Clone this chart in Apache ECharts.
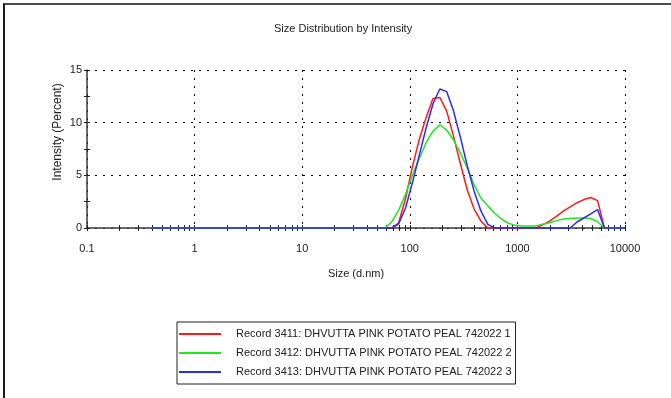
<!DOCTYPE html>
<html>
<head>
<meta charset="utf-8">
<script src="https://cdn.jsdelivr.net/npm/echarts@6/dist/echarts.min.js"></script>
<style>
html, body { margin: 0; padding: 0; background: #fff; }
#wrap { position: relative; width: 671px; height: 398px; overflow: hidden; }
#chart { position: absolute; left: 0; top: 0; width: 671px; height: 398px; }
#frame { position: absolute; left: 3px; top: 3px; right: -10px; bottom: -10px;
         border-top: 2px solid #4a4a4a; border-left: 2px solid #1a1a1a; pointer-events: none; }
</style>
</head>
<body>
<div id="wrap"><div id="chart"></div><div id="frame"></div></div>
<script>
// Size classes (d.nm), 70 log-spaced bins
const sizes = [
  0.4, 0.4632, 0.5365, 0.6213, 0.7195, 0.8332, 0.9649, 1.117, 1.294, 1.499,
  1.736, 2.010, 2.328, 2.696, 3.122, 3.615, 4.187, 4.849, 5.615, 6.503,
  7.531, 8.721, 10.10, 11.70, 13.54, 15.69, 18.17, 21.04, 24.36, 28.21,
  32.67, 37.84, 43.82, 50.75, 58.77, 68.06, 78.82, 91.28, 105.7, 122.4,
  141.8, 164.2, 190.1, 220.2, 255.0, 295.3, 342.0, 396.1, 458.7, 531.2,
  615.1, 712.4, 825.0, 955.4, 1106, 1281, 1484, 1718, 1990, 2305,
  2669, 3091, 3580, 4145, 4801, 5560, 6439, 7456, 8635, 10000
];

// Intensity (%) per size class
const record3411 = [
  0, 0, 0, 0, 0, 0, 0, 0, 0, 0,
  0, 0, 0, 0, 0, 0, 0, 0, 0, 0,
  0, 0, 0, 0, 0, 0, 0, 0, 0, 0,
  0, 0, 0, 0, 0, 0, 0.5, 2.8, 5.8, 8.4,
  10.5, 12.3, 12.4, 11.1, 8.7, 6.1, 3.6, 1.8, 0.65, 0,
  0, 0, 0, 0, 0, 0, 0, 0.3, 0.65, 1.1,
  1.6, 2.0, 2.4, 2.7, 2.9, 2.6, 0, 0, 0, 0
];
const record3412 = [
  0, 0, 0, 0, 0, 0, 0, 0, 0, 0,
  0, 0, 0, 0, 0, 0, 0, 0, 0, 0,
  0, 0, 0, 0, 0, 0, 0, 0, 0, 0,
  0, 0, 0, 0, 0, 0.6, 1.7, 3.2, 5.0, 6.6,
  8.1, 9.2, 9.8, 9.3, 8.35, 7.1, 5.7, 4.1, 2.85, 2.1,
  1.4, 0.85, 0.45, 0.25, 0.2, 0.2, 0.2, 0.35, 0.5, 0.7,
  0.85, 0.9, 0.95, 0.95, 0.9, 0.6, 0, 0, 0, 0
];
const record3413 = [
  0, 0, 0, 0, 0, 0, 0, 0, 0, 0,
  0, 0, 0, 0, 0, 0, 0, 0, 0, 0,
  0, 0, 0, 0, 0, 0, 0, 0, 0, 0,
  0, 0, 0, 0, 0, 0, 0.4, 1.9, 4.3, 6.9,
  9.5, 11.8, 13.2, 12.95, 11.1, 8.6, 5.9, 3.5, 1.6, 0.35,
  0, 0, 0, 0, 0, 0, 0, 0, 0, 0,
  0, 0, 0.57, 0.95, 1.35, 1.75, 0, 0, 0, 0
];

const recordNames = [
  'Record 3411: DHVUTTA PINK POTATO PEAL 742022 1',
  'Record 3412: DHVUTTA PINK POTATO PEAL 742022 2',
  'Record 3413: DHVUTTA PINK POTATO PEAL 742022 3'
];
const recordColors = ['#ff1a1a', '#1ee81e', '#2a2aff'];

const xTickValues = [0.1, 1, 10, 100, 1000, 10000];
const xTickLabels = ['0.1', '1', '10', '100', '1000', '10000'];
const yTickMarks = [0, 2.5, 5, 7.5, 10, 12.5, 15];

// small tick marks at 1..9 of every decade
const xTickMarks = [];
for (let d = 0; d < xTickValues.length - 1; d++) {
  for (let k = 1; k <= 9; k++) xTickMarks.push(k * xTickValues[d]);
}
xTickMarks.push(xTickValues[xTickValues.length - 1]);

const SANS = '"Liberation Sans", Arial, sans-serif';
const TXT = '#222';
const dotted = { color: '#000', width: 1, type: [2, 6] };

const chart = echarts.init(document.getElementById('chart'), null, { renderer: 'canvas' });

const allRecords = [record3411, record3412, record3413];

chart.setOption({
  animation: false,
  backgroundColor: '#fff',
  title: {
    text: 'Size Distribution by Intensity',
    left: 274, top: 23, padding: 0,
    textStyle: { fontFamily: SANS, fontSize: 11, fontWeight: 'normal', color: TXT }
  },
  grid: { left: 87, top: 70, width: 538, height: 158 },
  legend: {
    orient: 'vertical',
    left: 177, top: 322,
    padding: [5, 4, 5, 2],
    itemGap: 5,
    itemWidth: 42, itemHeight: 2,
    icon: 'rect',
    borderColor: '#222', borderWidth: 1,
    textStyle: { fontFamily: SANS, fontSize: 11, color: TXT, lineHeight: 14, padding: [0, 0, 0, 10] },
    data: recordNames
  },
  xAxis: [
    {
      type: 'log', logBase: 10, min: 0.1, max: 10000, position: 'bottom',
      name: 'Size (d.nm)', nameLocation: 'middle', nameGap: 40, nameMoveOverlap: false,
      nameTextStyle: { fontFamily: SANS, fontSize: 11, color: TXT },
      axisLine: { show: true, onZero: false, lineStyle: { color: '#3a3a3a', width: 1.5 } },
      axisTick: { show: false },
      axisLabel: {
        margin: 15, fontFamily: SANS, fontSize: 11, color: TXT,
        formatter: v => xTickLabels[Math.round(Math.log10(v)) + 1]
      },
      splitLine: { show: true, lineStyle: dotted }
    },
    {
      type: 'log', logBase: 10, min: 0.1, max: 10000, position: 'bottom', offset: -3,
      axisLine: { show: false },
      axisTick: { show: true, length: 6, customValues: xTickMarks, lineStyle: { color: '#222', width: 1 } },
      axisLabel: { show: false },
      splitLine: { show: false }
    }
  ],
  yAxis: [
    {
      type: 'value', min: 0, max: 15, interval: 5, position: 'left',
      name: 'Intensity (Percent)', nameLocation: 'middle', nameGap: 23, nameRotate: 90,
      nameMoveOverlap: false,
      nameTextStyle: { fontFamily: SANS, fontSize: 12, color: TXT, padding: [0, 0, 0, 34] },
      axisLine: { show: true, lineStyle: { color: '#3a3a3a', width: 1.5 } },
      axisTick: { show: false },
      axisLabel: { margin: 5, fontFamily: SANS, fontSize: 11, color: TXT },
      splitLine: { show: true, lineStyle: dotted }
    },
    {
      type: 'value', min: 0, max: 15, interval: 5, position: 'left', offset: -3,
      axisLine: { show: false },
      axisTick: { show: true, length: 6, customValues: yTickMarks, lineStyle: { color: '#222', width: 1 } },
      axisLabel: { show: false },
      splitLine: { show: false }
    }
  ],
  series: allRecords.map((vals, i) => ({
    type: 'line',
    name: recordNames[i],
    xAxisIndex: 0, yAxisIndex: 0,
    data: sizes.map((s, j) => [s, vals[j]]),
    showSymbol: false, symbol: 'none',
    clip: false,
    lineStyle: { color: recordColors[i], width: 1.5 },
    itemStyle: { color: recordColors[i] },
    z: 3 + i
  }))
});
</script>
</body>
</html>
